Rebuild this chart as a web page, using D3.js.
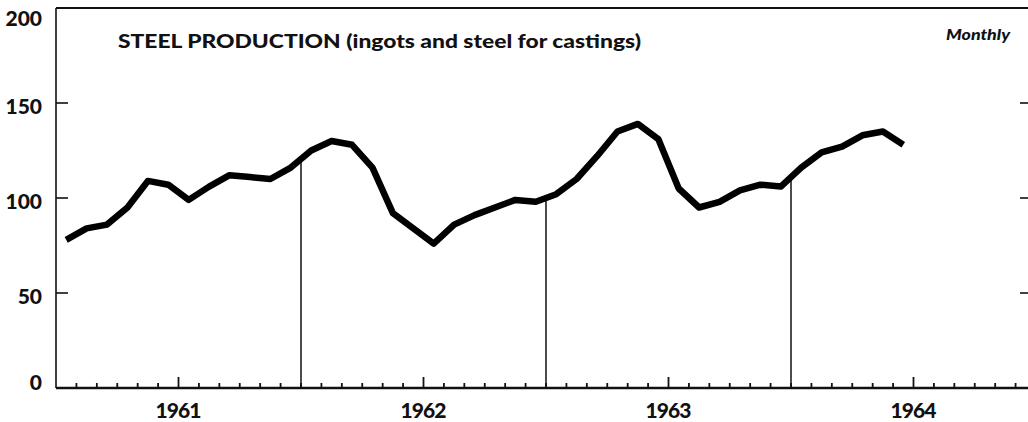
<!DOCTYPE html>
<html>
<head>
<meta charset="utf-8">
<script src="https://cdn.jsdelivr.net/npm/d3@7"></script>
<style>
  body { margin: 0; background: #fff; }
  svg { display: block; font-family: Lato, "DejaVu Sans", sans-serif; }
</style>
</head>
<body>
<svg id="canvas" width="1028" height="422"></svg>
<script>
// Monthly steel production, Jan 1961 - Jun 1964
let months1961 = [78, 84, 86, 95, 109, 107, 99, 106, 112, 111, 110, 116];
let months1962 = [125, 130, 128, 116, 92, 84, 76, 86, 91, 95, 99, 98];
let months1963 = [102, 110, 122, 135, 139, 131, 105, 95, 98, 104, 107, 106];
let months1964 = [116, 124, 127, 133, 135, 128];

let years = ["1961", "1962", "1963", "1964"];
let yTicks = [0, 50, 100, 150, 200];

let values = months1961.concat(months1962, months1963, months1964);

let canvas = d3.select('#canvas');

// month index 0 = Jan 1961, 48 = Jan 1965
let x = d3.scaleLinear().domain([0, 48]).range([56, 1036]);
let y = d3.scaleLinear().domain([0, 200]).range([388, 8]);

// frame: left axis and top line
canvas.append("line")
    .attr("x1", x(0)).attr("x2", x(0))
    .attr("y1", y(200)).attr("y2", y(0))
    .attr("stroke", "#111").attr("stroke-width", 1.6);

canvas.append("line")
    .attr("x1", x(0)).attr("x2", 1028)
    .attr("y1", y(200)).attr("y2", y(200))
    .attr("stroke", "#111").attr("stroke-width", 2);

// left and right tick marks
canvas.selectAll(".ltick")
    .data([50, 100, 150])
    .enter()
    .append("line")
    .attr("x1", x(0)).attr("x2", x(0) + 12)
    .attr("y1", d => y(d)).attr("y2", d => y(d))
    .attr("stroke", "#111").attr("stroke-width", 1.6);

canvas.selectAll(".rtick")
    .data([50, 100, 150])
    .enter()
    .append("line")
    .attr("x1", 1020).attr("x2", 1028)
    .attr("y1", d => y(d)).attr("y2", d => y(d))
    .attr("stroke", "#111").attr("stroke-width", 1.6);

// y labels
canvas.selectAll(".ylab")
    .data(yTicks)
    .enter()
    .append("text")
    .attr("x", 42)
    .attr("y", d => y(d) + (d === 200 ? 10 : d === 0 ? -6 : 3))
    .attr("dy", "0.36em")
    .attr("text-anchor", "end")
    .attr("font-size", 21)
    .attr("font-weight", 900)
    .attr("fill", "#111")
    .text(d => d);

// baseline with month ticks
canvas.append("line")
    .attr("x1", x(0)).attr("x2", 1028)
    .attr("y1", y(0)).attr("y2", y(0))
    .attr("stroke", "#111").attr("stroke-width", 2.4);

canvas.selectAll(".mtick")
    .data(d3.range(1, 48))
    .enter()
    .append("line")
    .attr("x1", d => x(d)).attr("x2", d => x(d))
    .attr("y1", y(0))
    .attr("y2", d => y(0) - (d % 12 === 6 ? 11 : 5))
    .attr("stroke", "#111").attr("stroke-width", 1.8);

// year labels under the mid-year tick
canvas.selectAll(".xlab")
    .data(years)
    .enter()
    .append("text")
    .attr("x", (d, i) => x(i * 12 + 6))
    .attr("y", 418)
    .attr("text-anchor", "middle")
    .attr("font-size", 21)
    .attr("font-weight", 900)
    .attr("textLength", 46)
    .attr("fill", "#111")
    .text(d => d);

// vertical year dividers rising up to the curve
let valueAt = m => {
    let i = Math.floor(m - 0.5);
    let t = m - 0.5 - i;
    return values[i] * (1 - t) + values[i + 1] * t;
};

canvas.selectAll(".divider")
    .data([12, 24, 36])
    .enter()
    .append("line")
    .attr("x1", d => x(d)).attr("x2", d => x(d))
    .attr("y1", y(0))
    .attr("y2", d => y(valueAt(d)))
    .attr("stroke", "#111").attr("stroke-width", 1.5);

// the data line, points at mid month
let line = d3.line()
    .x((d, i) => x(i + 0.5))
    .y(d => y(d));

canvas.append("path")
    .datum(values)
    .attr("d", line)
    .attr("fill", "none")
    .attr("stroke", "#000")
    .attr("stroke-width", 6.5)
    .attr("stroke-linejoin", "round");

// titles
canvas.append("text")
    .attr("x", 118).attr("y", 48)
    .attr("font-size", 19)
    .attr("font-weight", 900)
    .attr("textLength", 523)
    .attr("lengthAdjust", "spacingAndGlyphs")
    .attr("fill", "#111")
    .text("STEEL PRODUCTION (ingots and steel for castings)");

canvas.append("text")
    .attr("x", 1010).attr("y", 40)
    .attr("text-anchor", "end")
    .attr("font-size", 15)
    .attr("font-weight", 900)
    .attr("font-style", "italic")
    .attr("textLength", 64)
    .attr("lengthAdjust", "spacingAndGlyphs")
    .attr("fill", "#111")
    .text("Monthly");
</script>
</body>
</html>
